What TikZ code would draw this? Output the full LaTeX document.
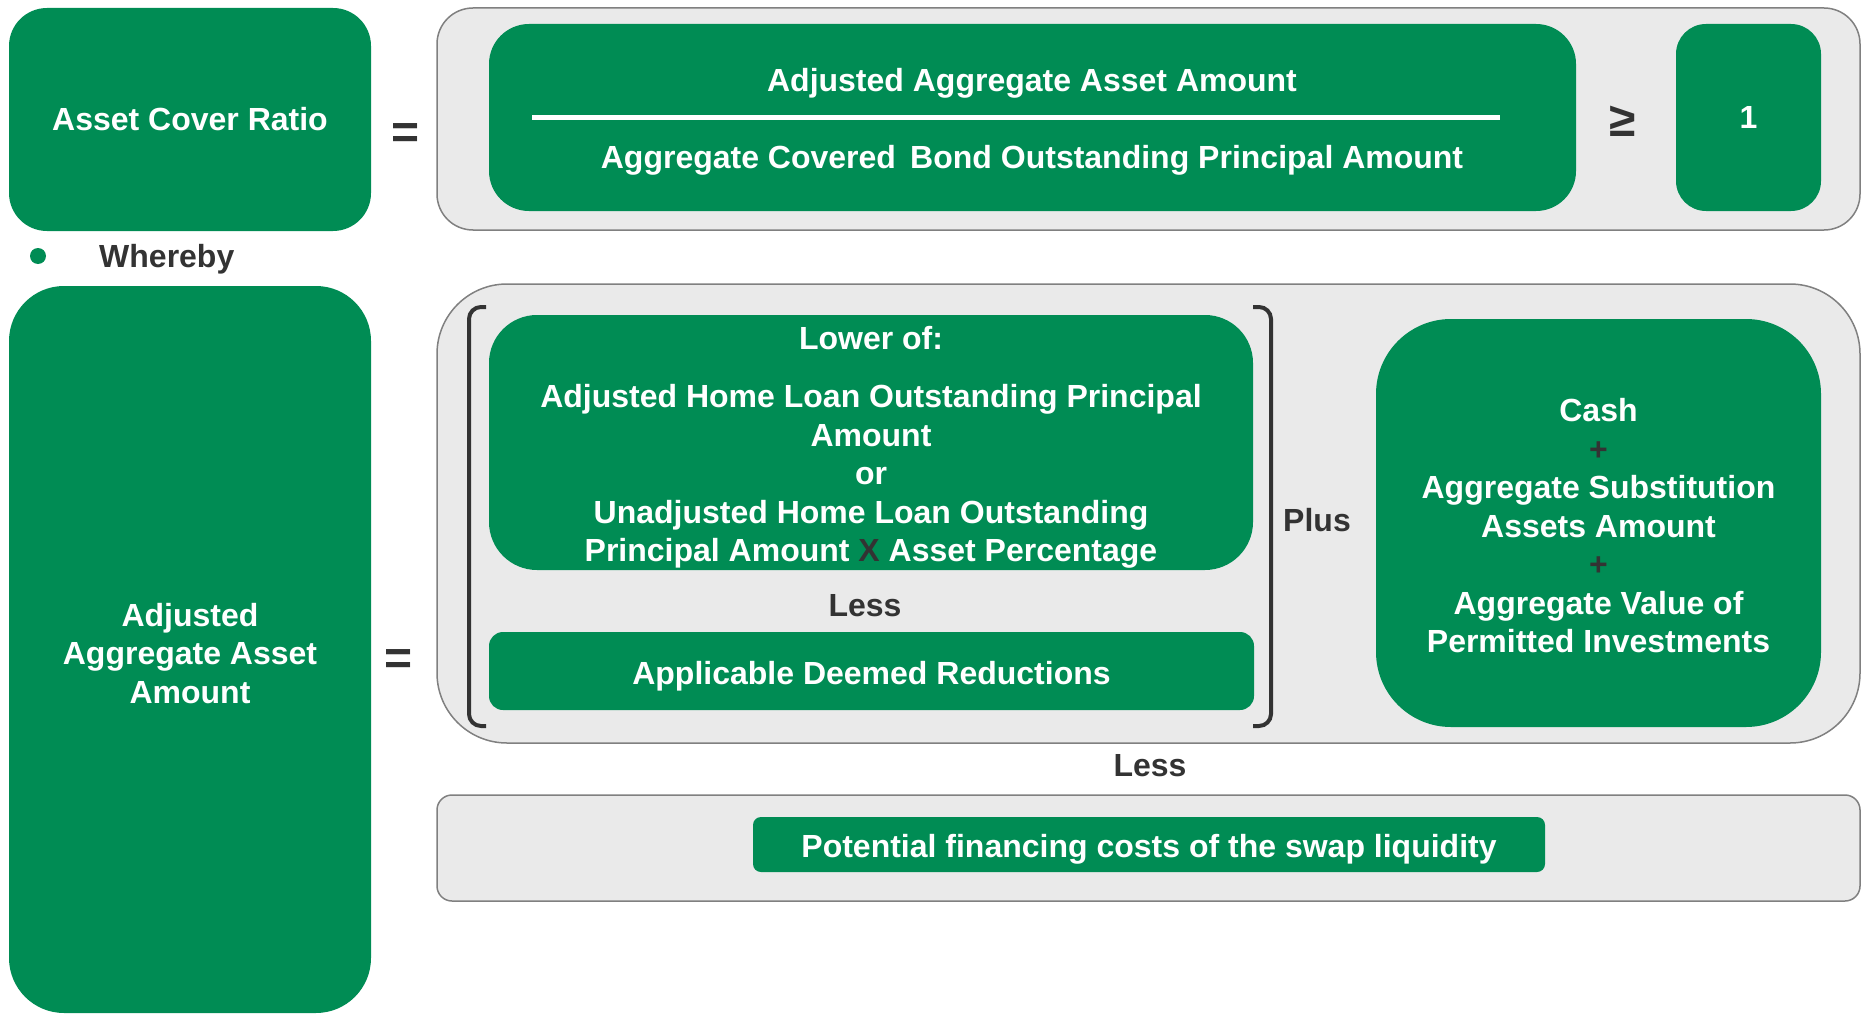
\documentclass[tikz,border=0pt]{standalone}
\usepackage{fontspec}
\setmainfont{Liberation Sans}
\usetikzlibrary{positioning}
\definecolor{acgreen}{HTML}{008C54}
\definecolor{acgrey}{HTML}{EAEAEA}
\definecolor{acedge}{HTML}{808080}
\definecolor{acdark}{HTML}{333333}
\tikzset{
  greenbox/.style={fill=acgreen,draw=none,inner sep=0pt,text=white,align=center},
  greybox/.style={fill=acgrey,draw=acedge,line width=1.5pt,inner sep=0pt},
  txt/.style={font=\bfseries\fontsize{32}{38.5}\selectfont},
  wtxt/.style={txt,text=white,align=center,inner sep=0pt},
  sym/.style={text=acdark,font=\bfseries\fontsize{48}{48}\selectfont,inner sep=0pt},
  dark/.style={txt,text=acdark,inner sep=0pt},
  brk/.style={draw=acdark,line width=4pt,rounded corners=12pt}
}
\begin{document}
\begin{tikzpicture}[x=1pt,y=-1pt]
    \useasboundingbox (0,0) rectangle (1866,1014);
    % top row
    \node[greenbox,txt,rounded corners=38pt,minimum width=362pt,minimum height=223pt] (acr) at (190,119.5) {Asset Cover Ratio};
    \node[sym] (eqa) at (406,136) {=};
    \node[greybox,rounded corners=36pt,minimum width=1423pt,minimum height=222pt] (topbox) at (1148.5,119) {};
    \node[greenbox,rounded corners=40pt,minimum width=1087pt,minimum height=187pt] (frac) at (1032.5,117.5) {};
    \node[wtxt] (num) at (1032,83) {Adjusted Aggregate Asset Amount};
    \node[wtxt] (den) at (1032,160) {Aggregate Covered~\,Bond Outstanding Principal Amount};
    \coordinate (barl) at (532,118);
    \coordinate (barr) at (1500,118);
    \draw[white,line width=5pt] (barl) -- (barr);
    \node[sym] (geq) at (1623,121) {≥};
    \node[greenbox,txt,rounded corners=30pt,minimum width=145pt,minimum height=187pt] (one) at (1748.5,117.5) {1};
    % whereby
    \fill[acgreen] (38,256) circle (8pt);
    \node[dark,anchor=west] (whereby) at (99,259) {Whereby};
    % adjusted aggregate asset amount
    \node[greenbox,rounded corners=55pt,minimum width=362pt,minimum height=727pt] (aaaa) at (190,649.5) {};
    \node[wtxt] at ([yshift=-4pt]aaaa.center) {Adjusted\\Aggregate Asset\\Amount};
    \node[sym] (eqb) at (399,662) {=};
    \node[greybox,rounded corners=70pt,minimum width=1423pt,minimum height=459pt] (midbox) at (1148.5,513.5) {};
    \draw[brk] (486,307) -| (469,726) -- (486,726);
    \draw[brk] (1253,307) -| (1271,726) -- (1253,726);
    \node[greenbox,rounded corners=48pt,minimum width=764pt,minimum height=255pt] (lower) at (871,442.5) {};
    \node[wtxt] at ([yshift=-5pt]lower.center)
        {Lower of:\\[20pt]Adjusted Home Loan Outstanding Principal\\Amount\\or\\Unadjusted Home Loan Outstanding\\Principal Amount {\color{acdark}X} Asset Percentage};
    \node[dark] (lessa) at (865,606) {Less};
    \node[greenbox,rounded corners=14pt,minimum width=765pt,minimum height=78pt] (adr) at (871.5,671) {};
    \node[wtxt] at ([yshift=-5pt]adr.center) {Applicable Deemed Reductions};
    \node[dark] (plus) at (1317,520) {Plus};
    \node[greenbox,rounded corners=75pt,minimum width=445pt,minimum height=408pt] (cash) at (1598.5,523) {};
    \node[wtxt] at ([yshift=-3pt]cash.center)
        {Cash\\{\color{acdark}+}\\Aggregate Substitution\\Assets Amount\\{\color{acdark}+}\\Aggregate Value of\\Permitted Investments};
    % swap liquidity
    \node[dark] (lessb) at (1150,766) {Less};
    \node[greybox,rounded corners=15pt,minimum width=1423pt,minimum height=106pt] (botbox) at (1148.5,848) {};
    \node[greenbox,rounded corners=8pt,minimum width=792pt,minimum height=55pt] (pfc) at (1149,844.5) {};
    \node[wtxt] at ([yshift=-5pt]pfc.center) {Potential financing costs of the swap liquidity};
\end{tikzpicture}
\end{document}
